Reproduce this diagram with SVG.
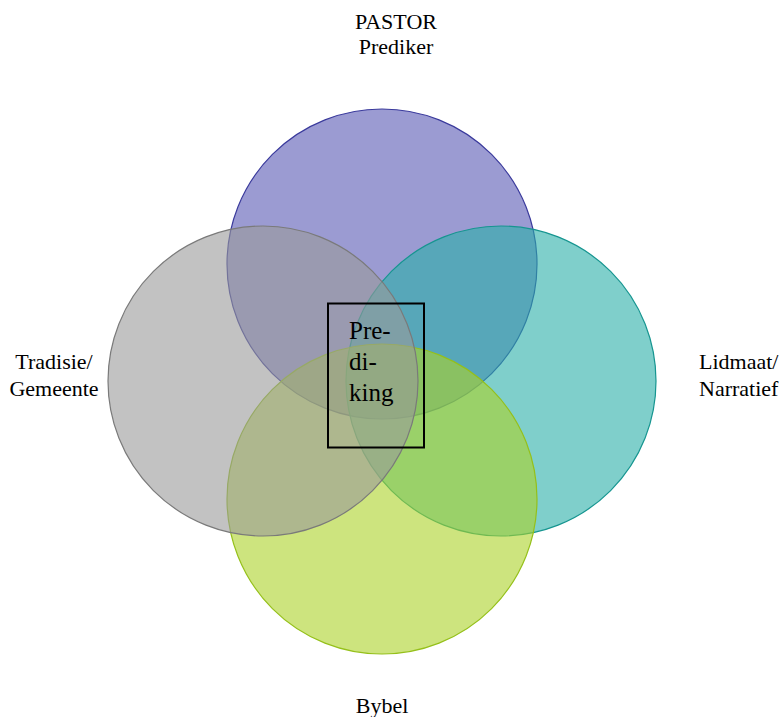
<svg xmlns="http://www.w3.org/2000/svg" width="784" height="717" viewBox="0 0 784 717">
<rect width="784" height="717" fill="#fff"/>
<g id="pastor"><circle cx="382" cy="264" r="155" fill="#5858b4" fill-opacity="0.6" stroke="#3a3a9c" stroke-width="1.2"/></g>
<g id="lidmaat"><circle cx="501" cy="381" r="155" fill="#2aafa8" fill-opacity="0.6" stroke="#169590" stroke-width="1.2"/></g>
<g id="bybel"><circle cx="382" cy="499" r="155" fill="#acd228" fill-opacity="0.6" stroke="#95c01a" stroke-width="1.2"/></g>
<g id="tradisie"><circle cx="263" cy="381" r="155" fill="#999999" fill-opacity="0.6" stroke="#7a7a7a" stroke-width="1.2"/></g>
<g id="prediking" font-family="Liberation Serif, Times New Roman, serif" font-size="25">
<rect x="328" y="303.5" width="96" height="144" fill="none" stroke="#000" stroke-width="2"/>
<text x="349" y="339">Pre-</text>
<text x="349" y="370">di-</text>
<text x="349" y="401">king</text>
</g>
<g id="labels" font-family="Liberation Serif, Times New Roman, serif" font-size="22">
<text x="396" y="29" text-anchor="middle">PASTOR</text>
<text x="396" y="54" text-anchor="middle">Prediker</text>
<text x="54" y="369" text-anchor="middle">Tradisie/</text>
<text x="54" y="396" text-anchor="middle">Gemeente</text>
<text x="699" y="369">Lidmaat/</text>
<text x="699" y="396">Narratief</text>
<text x="382" y="713" text-anchor="middle">Bybel</text>
</g>
<g id="connectors"/>
</svg>
